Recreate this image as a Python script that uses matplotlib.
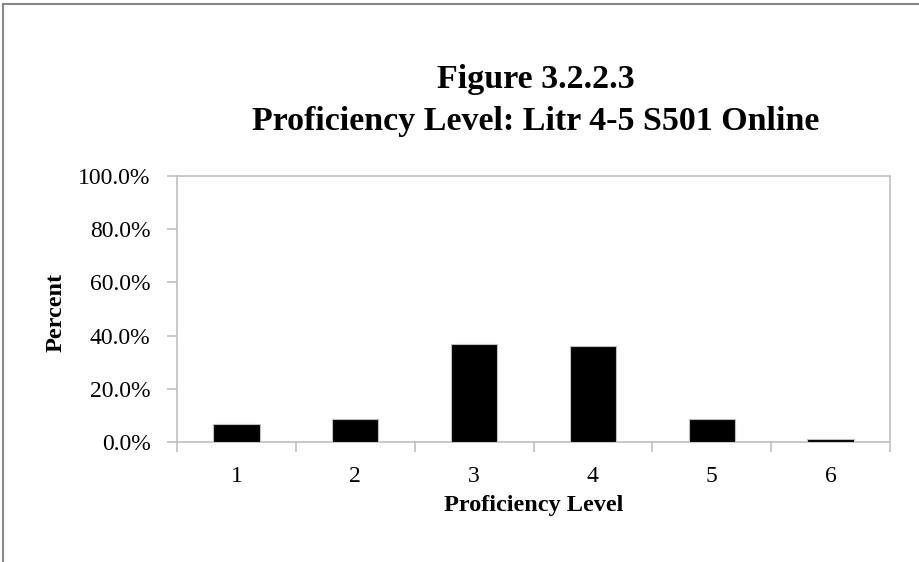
import matplotlib
matplotlib.use("Agg")
import matplotlib.pyplot as plt
from matplotlib.ticker import FuncFormatter, FixedLocator
from matplotlib.lines import Line2D

categories = ["1", "2", "3", "4", "5", "6"]
percent = [6.6, 8.8, 37.0, 36.2, 8.8, 1.1]
yticks = [0, 20, 40, 60, 80, 100]

plt.rcParams['font.family'] = ['Liberation Serif', 'DejaVu Serif']

fig = plt.figure(figsize=(9.19, 5.62), dpi=100)
W, H = 919, 562
L, R, T, B = 177, 890, 176, 442
ax = fig.add_axes([L / W, 1 - B / H, (R - L) / W, (B - T) / H])

x = list(range(len(categories)))
ax.bar(x, percent, width=0.39, color='black', edgecolor='#bfbfbf', linewidth=0.8, zorder=3)

ax.set_xlim(-0.5, len(categories) - 0.5)
ax.set_ylim(0, 100)
ax.set_yticks(yticks)
ax.yaxis.set_major_formatter(FuncFormatter(lambda v, p: f"{v:.1f}%"))
ax.set_xticks(x)
ax.set_xticklabels(categories)
ax.xaxis.set_minor_locator(FixedLocator([i - 0.5 for i in range(len(categories) + 1)]))

for s in ax.spines.values():
    s.set_color('#c0c0c0')
    s.set_linewidth(1.2)

ax.tick_params(axis='x', which='major', length=0, pad=17, labelsize=17)
ax.tick_params(axis='x', which='minor', length=7, color='#c0c0c0', width=1.2)
ax.tick_params(axis='y', which='major', length=7, color='#c0c0c0', width=1.2, labelsize=17, pad=12)

ax.set_xlabel("Proficiency Level", fontsize=17.5, fontweight='bold', va='center')
ax.xaxis.set_label_coords(0.5, (442 - 506) / 266)
ax.set_ylabel("Percent", fontsize=17.5, fontweight='bold', va='center', ha='center')
ax.yaxis.set_label_coords((56 - 177) / 713, (442 - 312) / 266)

fig.text(535.5 / W, 1 - 88 / H, "Figure 3.2.2.3",
         ha='center', va='baseline', fontsize=24.5, fontweight='bold')
fig.text(535.5 / W, 1 - 130 / H, "Proficiency Level: Litr 4-5 S501 Online",
         ha='center', va='baseline', fontsize=24.5, fontweight='bold')

# outer chart border (partially visible)
fig.add_artist(Line2D([3 / W, 1], [1 - 4 / H, 1 - 4 / H], transform=fig.transFigure, color='#888888', lw=1.5))
fig.add_artist(Line2D([3 / W, 3 / W], [0, 1 - 4 / H], transform=fig.transFigure, color='#888888', lw=1.5))

fig.savefig("out.png", dpi=100)
